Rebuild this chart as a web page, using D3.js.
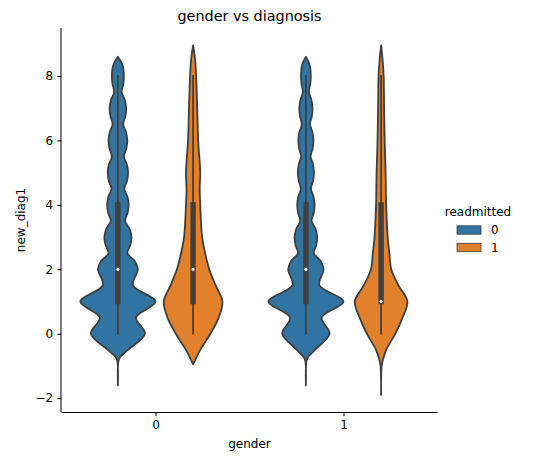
<!DOCTYPE html>
<html>
<head>
<meta charset="utf-8">
<script src="https://cdn.jsdelivr.net/npm/d3@7"></script>
<style>
  body { margin: 0; background: #fff; }
  text { font-family: "DejaVu Sans", sans-serif; fill: #000; }
</style>
</head>
<body>
<div id="chart"></div>
<script>
// gender vs diagnosis - violin plot (catplot kind=violin)

const genders = ['0', '1'];
const readmitted = ['0', '1'];
const yTicks = [-2, 0, 2, 4, 6, 8];
const hueColors = ['#3274a1', '#e1812c'];

// density profiles (value -> relative density, 1 = widest)
const gridBlue = [8.6, 8.35, 8, 7.75, 7.5, 7.25, 7, 6.75, 6.5, 6.25, 6, 5.75, 5.5, 5.25, 5, 4.75, 4.5, 4.25, 4,
    3.75, 3.5, 3.25, 3, 2.75, 2.5, 2.25, 2, 1.5, 1, 0.5, 0, -0.5, -0.72, -0.85, -1.6];
const densG0R0 = [0, .12, .16, .143, .1, .186, .22, .198, .14, .219, .25, .225, .16, .239, .27, .242, .17, .253, .285,
    .258, .19, .312, .36, .329, .25, .452, .53, .4, 1, .48, .72, .27, .06, .015, 0];
const densG1R0 = [0, .1, .13, .116, .08, .148, .175, .157, .11, .175, .2, .179, .125, .19, .215, .193, .135, .203, .23,
    .208, .15, .258, .3, .275, .21, .397, .47, .36, 1, .42, .63, .24, .06, .015, 0];

const gridOrange0 = [8.95, 8.5, 8, 7, 6, 5, 4.5, 4, 3, 2.5, 2, 1.5, 1, 0.5, 0, -0.5, -0.95];
const densG0R1 = [0, .054, .08, .11, .135, .19, .175, .19, .24, .32, .43, .6, .78, .68, .46, .19, 0];

const gridOrange1 = [8.95, 8.5, 8, 7, 6, 5, 4, 3, 2.5, 2, 1.5, 1, 0.5, 0, -0.5, -0.8, -1.0, -1.9];
const densG1R1 = [0, .04, .068, .08, .095, .12, .135, .175, .22, .27, .46, .7, .57, .38, .135, .05, .015, 0];

// box stats, order: g0r0, g0r1, g1r0, g1r1
const q1s = [1, 1, 1, 1];
const medians = [2, 2, 2, 1];
const q3s = [4, 4, 4, 4];
const whiskLo = [0, 0, 0, 0];
const whiskHi = [8, 8, 8, 8];

const violins = [
    { g: 0, h: 0, grid: gridBlue, dens: densG0R0 },
    { g: 0, h: 1, grid: gridOrange0, dens: densG0R1 },
    { g: 1, h: 0, grid: gridBlue, dens: densG1R0 },
    { g: 1, h: 1, grid: gridOrange1, dens: densG1R1 }
];
violins.forEach((v, i) => {
    v.q1 = q1s[i]; v.med = medians[i]; v.q3 = q3s[i];
    v.lo = whiskLo[i]; v.hi = whiskHi[i];
});

const W = 555, H = 462;
const margin = { top: 28, right: 117.5, bottom: 50, left: 61.5 };
const gray = '#3f3f3f';

function draw() {
    const svg = d3.select('#chart').append('svg')
        .attr('width', W)
        .attr('height', H);

    svg.append('rect').attr('width', W).attr('height', H).attr('fill', '#fff');

    const x = d3.scaleLinear()
        .domain([-0.5, genders.length - 0.5])
        .range([margin.left, W - margin.right]);
    const y = d3.scaleLinear()
        .domain([-2.43, 9.49])
        .range([H - margin.bottom, margin.top]);

    const hueOffset = d3.scaleLinear().domain([0, 1]).range([-0.2, 0.2]);
    // half width in data units: max density -> 0.2
    const halfW = d3.scaleLinear().domain([0, 1]).range([0, 0.2]);

    const g = svg.append('g');

    violins.forEach(v => {
        const c = v.g + hueOffset(v.h);
        const pts = v.grid.map((val, i) => ({ val, d: v.dens[i] }));
        const area = d3.area()
            .y(p => y(p.val))
            .x0(p => x(c - halfW(p.d)))
            .x1(p => x(c + halfW(p.d)))
            .curve(d3.curveCatmullRom);
        g.append('path')
            .attr('d', area(pts))
            .attr('fill', hueColors[v.h])
            .attr('stroke', gray)
            .attr('stroke-width', 1.8)
            .attr('stroke-linejoin', 'round');

        // whisker
        g.append('line')
            .attr('x1', x(c)).attr('x2', x(c))
            .attr('y1', y(v.lo)).attr('y2', y(v.hi))
            .attr('stroke', gray)
            .attr('stroke-width', 1.8)
            .attr('stroke-linecap', 'square');
        // box
        g.append('line')
            .attr('x1', x(c)).attr('x2', x(c))
            .attr('y1', y(v.q1)).attr('y2', y(v.q3))
            .attr('stroke', gray)
            .attr('stroke-width', 5.4)
            .attr('stroke-linecap', 'square');
        // median
        g.append('circle')
            .attr('cx', x(c)).attr('cy', y(v.med))
            .attr('r', 2)
            .attr('fill', '#fff')
            .attr('stroke', gray)
            .attr('stroke-width', 0.8);
    });

    // axes
    const xAxis = d3.axisBottom(x)
        .tickValues(genders.map((d, i) => i))
        .tickFormat(i => genders[i])
        .tickSize(4.2)
        .tickPadding(4.2);
    const yAxis = d3.axisLeft(y)
        .tickValues(yTicks)
        .tickFormat(d => d < 0 ? '\u2212' + Math.abs(d) : d)
        .tickSize(4.2)
        .tickPadding(4.2);

    const gx = svg.append('g')
        .attr('transform', `translate(0,${H - margin.bottom})`)
        .call(xAxis);
    const gy = svg.append('g')
        .attr('transform', `translate(${margin.left},0)`)
        .call(yAxis);

    [gx, gy].forEach(ax => {
        ax.select('.domain').attr('stroke', '#000').attr('stroke-width', 1);
        ax.selectAll('.tick line').attr('stroke', '#000').attr('stroke-width', 1);
        ax.selectAll('.tick text')
            .attr('font-family', '"DejaVu Sans", sans-serif')
            .attr('font-size', 12)
            .attr('fill', '#000');
    });
    // seaborn despine: keep only left/bottom spines
    gx.select('.domain').attr('d', `M${margin.left},0.5H${W - margin.right}`);
    gy.select('.domain').attr('d', `M-0.5,${margin.top}V${H - margin.bottom}`);

    // labels
    svg.append('text')
        .attr('x', (margin.left + W - margin.right) / 2)
        .attr('y', 448)
        .attr('text-anchor', 'middle')
        .attr('font-size', 12)
        .text('gender');

    svg.append('text')
        .attr('transform', `translate(25,${(margin.top + H - margin.bottom) / 2}) rotate(-90)`)
        .attr('text-anchor', 'middle')
        .attr('font-size', 12)
        .text('new_diag1');

    svg.append('text')
        .attr('x', (margin.left + W - margin.right) / 2)
        .attr('y', 20.5)
        .attr('text-anchor', 'middle')
        .attr('font-size', 14.4)
        .text('gender vs diagnosis');

    // legend
    const lg = svg.append('g').attr('transform', 'translate(457,0)');
    lg.append('text')
        .attr('x', 21)
        .attr('y', 215.5)
        .attr('text-anchor', 'middle')
        .attr('font-size', 12)
        .text('readmitted');
    readmitted.forEach((r, i) => {
        const cy = 230 + i * 17.5;
        lg.append('rect')
            .attr('x', 0).attr('y', cy - 4.2)
            .attr('width', 24).attr('height', 8.4)
            .attr('fill', hueColors[i])
            .attr('stroke', gray)
            .attr('stroke-width', 0.8);
        lg.append('text')
            .attr('x', 34)
            .attr('y', cy + 4.4)
            .attr('font-size', 12)
            .text(r);
    });
}

draw();
</script>
</body>
</html>
